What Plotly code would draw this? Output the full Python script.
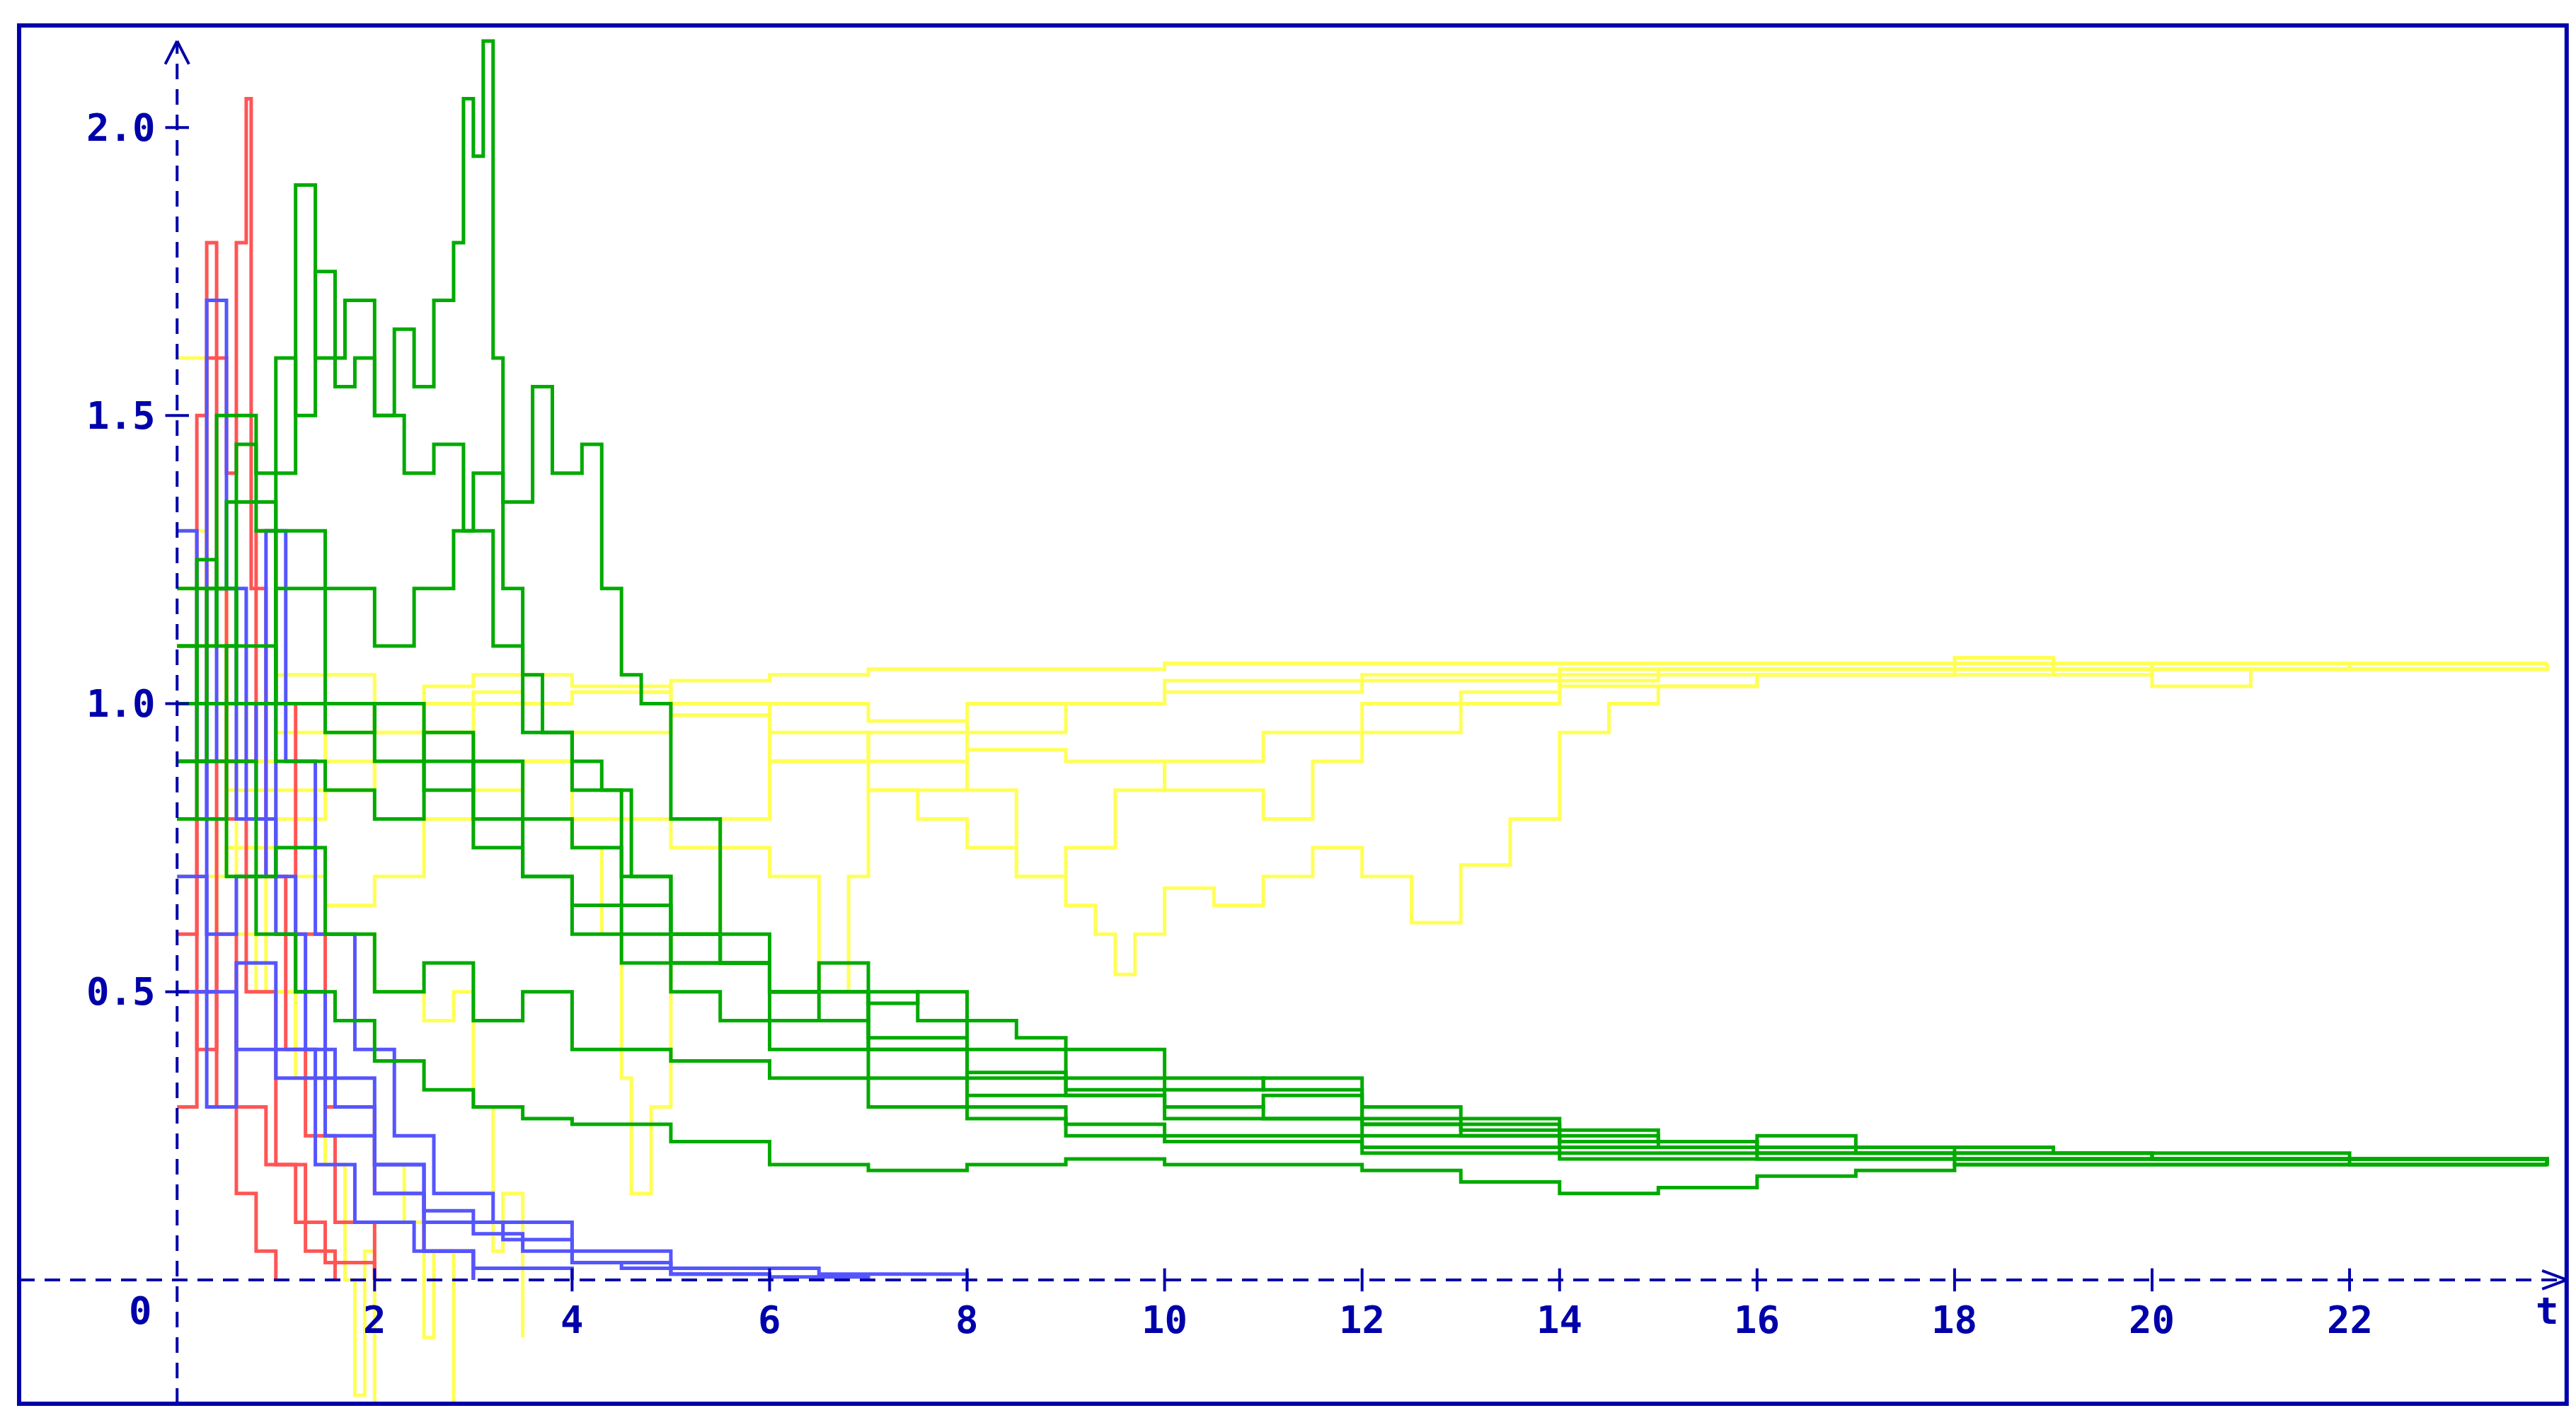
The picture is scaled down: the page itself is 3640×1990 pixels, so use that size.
import plotly.graph_objects as go

# hand-read sample paths, (t, value) pairs
green_paths = [
    [(0,1.0),(0.2,1.25),(0.4,1.1),(0.6,1.45),(0.8,1.3),(1.0,1.6),(1.2,1.5),(1.4,1.75),(1.6,1.55),(1.8,1.6),(2.0,1.5),(2.2,1.65),(2.4,1.55),(2.6,1.7),(2.8,1.8),(2.9,2.05),(3.0,1.95),(3.1,2.15),(3.2,1.6),(3.3,1.2),(3.5,1.05),(3.7,0.95),(4.0,0.9),(4.3,0.85),(4.6,0.7),(5.0,0.6),(5.5,0.55),(6,0.5),(7,0.42),(8,0.36),(9,0.33),(10,0.3),(11,0.28),(12,0.27),(13,0.25),(14,0.24),(16,0.22),(18,0.21),(20,0.21),(22,0.2),(24,0.2)],
    [(0,0.9),(0.3,1.2),(0.6,1.0),(1,1.3),(1.5,1.2),(2,1.1),(2.4,1.2),(2.8,1.3),(3.0,1.4),(3.3,1.35),(3.6,1.55),(3.8,1.4),(4.1,1.45),(4.3,1.2),(4.5,1.05),(4.7,1.0),(5.0,0.8),(5.5,0.6),(6,0.5),(6.5,0.45),(7,0.5),(7.5,0.45),(8,0.4),(9,0.35),(10,0.33),(11,0.35),(12,0.28),(13,0.26),(15,0.23),(17,0.22),(20,0.21),(24,0.2)],
    [(0,1.1),(0.4,1.5),(0.8,1.4),(1.2,1.9),(1.4,1.6),(1.7,1.7),(2.0,1.5),(2.3,1.4),(2.6,1.45),(2.9,1.3),(3.2,1.1),(3.5,0.95),(4,0.85),(4.5,0.7),(5,0.55),(6,0.45),(7,0.4),(8,0.32),(10,0.28),(12,0.25),(14,0.23),(18,0.21),(24,0.2)],
    [(0,1.1),(0.2,0.8),(0.5,0.9),(0.8,0.6),(1.2,0.5),(1.6,0.45),(2,0.38),(2.5,0.33),(3,0.3),(3.5,0.28),(4,0.27),(5,0.24),(6,0.2),(7,0.19),(8,0.2),(9,0.21),(10,0.2),(11,0.2),(12,0.19),(13,0.17),(14,0.15),(15,0.16),(16,0.18),(17,0.19),(18,0.2),(20,0.2),(24,0.2)],
    [(0,1.0),(0.5,1.1),(1,0.9),(1.5,0.85),(2,0.8),(2.5,0.9),(3,0.75),(3.5,0.7),(4,0.6),(4.5,0.55),(5,0.5),(5.5,0.45),(6,0.4),(7,0.35),(8,0.3),(9,0.27),(10,0.25),(12,0.23),(14,0.22),(16,0.21),(20,0.21),(24,0.2)],
    [(0,0.8),(0.5,0.7),(1,0.75),(1.5,0.6),(2,0.5),(2.5,0.55),(3,0.45),(3.5,0.5),(4,0.4),(5,0.38),(6,0.35),(7,0.3),(8,0.28),(9,0.25),(10,0.24),(12,0.22),(14,0.21),(18,0.2),(24,0.21)],
    [(0,1.2),(0.5,1.35),(1,1.0),(1.5,0.95),(2,1.0),(2.5,0.85),(3,0.9),(3.5,0.8),(4,0.75),(4.5,0.65),(5,0.6),(5.5,0.55),(6,0.5),(6.5,0.55),(7,0.48),(7.5,0.5),(8,0.45),(8.5,0.42),(9,0.4),(10,0.35),(11,0.33),(12,0.3),(13,0.28),(14,0.25),(15,0.24),(16,0.25),(17,0.23),(19,0.22),(22,0.21),(24,0.2)],
    [(0,0.9),(0.5,1.0),(1,1.2),(1.5,1.0),(2,0.9),(2.5,0.95),(3,0.8),(3.5,0.7),(4,0.65),(4.5,0.6),(5,0.55),(6,0.5),(7,0.4),(8,0.35),(9,0.32),(10,0.3),(11,0.32),(12,0.27),(14,0.24),(16,0.22),(20,0.21),(24,0.2)],
]

yellow_paths = [
    [(0,1.6),(0.3,1.0),(0.7,0.9),(1,0.95),(1.5,0.9),(2,0.95),(2.5,1.0),(3,1.02),(3.5,1.0),(4,1.02),(5,0.98),(6,0.9),(7,0.85),(7.5,0.8),(8,0.75),(8.5,0.7),(9,0.65),(9.3,0.6),(9.5,0.53),(9.7,0.6),(10,0.68),(10.5,0.65),(11,0.7),(11.5,0.75),(12,0.7),(12.5,0.62),(13,0.72),(13.5,0.8),(14,0.95),(14.5,1.0),(15,1.03),(16,1.05),(18,1.06),(20,1.07),(24,1.07)],
    [(0,1.0),(0.5,0.85),(1,0.8),(1.5,0.85),(2,0.9),(2.5,0.95),(3,1.0),(4,1.02),(5,1.04),(6,1.05),(7,1.06),(8,1.06),(10,1.07),(12,1.07),(16,1.07),(20,1.07),(24,1.07)],
    [(0,0.9),(0.5,0.7),(1,0.6),(1.5,0.65),(2,0.7),(2.5,0.8),(3,0.85),(3.5,0.9),(4,0.95),(5,0.98),(6,1.0),(7,0.97),(8,0.92),(9,0.9),(10,0.85),(11,0.8),(11.5,0.9),(12,0.95),(13,1.0),(14,1.03),(16,1.05),(19,1.06),(20,1.03),(21,1.06),(24,1.07)],
    [(0,1.1),(0.5,0.9),(1,0.85),(1.5,0.95),(2,1.0),(2.5,1.03),(3,1.05),(4,1.03),(5,1.0),(6,0.95),(7,0.9),(8,0.85),(8.5,0.7),(9,0.75),(9.5,0.85),(10,0.9),(11,0.95),(12,1.0),(13,1.02),(14,1.04),(15,1.05),(18,1.08),(19,1.05),(20,1.06),(22,1.07),(24,1.07)],
    [(0,1.3),(0.3,0.9),(0.6,0.7),(0.9,0.5),(1.2,0.35),(1.5,0.2),(1.7,0.0),(1.8,-0.2),(1.9,0.05),(2.0,-0.22)],
    [(0,0.8),(0.4,0.6),(0.8,0.5),(1.2,0.4),(1.6,0.3),(2,0.2),(2.3,0.1),(2.5,-0.1),(2.6,0.05),(2.8,-0.22)],
    [(0,1.0),(0.5,0.8),(1,0.7),(1.5,0.6),(2,0.5),(2.5,0.45),(2.8,0.5),(3,0.3),(3.2,0.05),(3.3,0.15),(3.5,-0.1)],
    [(0,0.7),(0.5,0.75),(1,0.8),(1.5,0.85),(2,0.9),(2.5,0.95),(3,0.9),(3.5,0.8),(4,0.75),(4.3,0.6),(4.5,0.35),(4.6,0.15),(4.8,0.3),(5,0.6),(5.5,0.8),(6,0.9),(7,0.95),(8,1.0),(10,1.04),(14,1.06),(24,1.06)],
    [(0,1.2),(0.5,1.0),(1,1.05),(2,0.95),(3,0.9),(4,0.8),(5,0.75),(6,0.7),(6.5,0.5),(6.8,0.7),(7,0.85),(8,0.95),(9,1.0),(10,1.02),(12,1.05),(15,1.06),(24,1.07)],
]

blue_paths = [
    [(0,1.3),(0.2,0.9),(0.4,1.2),(0.6,0.8),(0.8,1.0),(1,0.7),(1.2,0.5),(1.5,0.35),(2,0.2),(2.5,0.1),(3,0.08),(3.5,0.05),(4,0.03),(5,0.01),(6,0.005),(7,0.0)],
    [(0,0.8),(0.3,1.7),(0.5,1.2),(0.7,0.8),(1,0.6),(1.3,0.4),(1.6,0.3),(2,0.2),(2.5,0.12),(3,0.1),(3.3,0.07),(4,0.03),(4.5,0.02),(5,0.01),(6,0.0)],
    [(0,0.7),(0.3,0.5),(0.6,0.4),(1,0.35),(1.5,0.25),(2,0.15),(2.5,0.05),(3,0.02),(4,0.0)],
    [(0,1.0),(0.3,0.6),(0.6,0.7),(0.9,1.3),(1.1,0.9),(1.4,0.6),(1.8,0.4),(2.2,0.25),(2.6,0.15),(3.2,0.1),(4,0.05),(5,0.02),(6.5,0.01),(8,0.0)],
    [(0,0.5),(0.3,0.3),(0.6,0.55),(1,0.4),(1.4,0.2),(1.8,0.1),(2.4,0.05),(3,0.0)],
]

red_paths = [
    [(0,0.6),(0.2,1.5),(0.3,1.8),(0.4,1.2),(0.5,0.8),(0.7,0.5),(1,0.2),(1.3,0.05),(1.6,0.0)],
    [(0,0.3),(0.2,0.5),(0.4,0.3),(0.6,0.15),(0.8,0.05),(1.0,0.0)],
    [(0,1.0),(0.3,1.6),(0.5,1.4),(0.6,1.8),(0.7,2.05),(0.75,1.2),(0.9,0.7),(1.1,0.4),(1.3,0.25),(1.6,0.1),(2,0.0)],
    [(0,0.8),(0.2,0.4),(0.4,0.6),(0.6,0.3),(0.9,0.2),(1.2,0.1),(1.5,0.03),(2,0.0)],
    [(0,0.5),(0.4,0.9),(0.8,1.3),(1.0,1.0),(1.2,0.6),(1.5,0.3),(2,0.15),(2.5,0.05),(3,0.0)],
]

x_ticks = [2, 4, 6, 8, 10, 12, 14, 16, 18, 20, 22]
y_ticks = [0.5, 1.0, 1.5, 2.0]

AX = "#0000aa"
FONT = dict(family="DejaVu Sans Mono", size=54, color=AX)
AXLINE = dict(color=AX, width=4, dash="22px,14px")

fig = go.Figure()
for paths, col in [(yellow_paths, "#ffff55"), (red_paths, "#ff5555"),
                   (blue_paths, "#5555ff"), (green_paths, "#00aa00")]:
    for p in paths:
        fig.add_trace(go.Scatter(x=[a for a, b in p], y=[b for a, b in p],
                                 mode="lines", line=dict(color=col, width=5, shape="hv"),
                                 hoverinfo="skip"))

shapes = [
    dict(type="line", x0=-1.6, x1=24.2, y0=0, y1=0, line=AXLINE),
    dict(type="line", x0=0, x1=0, y0=-0.215, y1=2.15, line=AXLINE),
    dict(type="line", x0=23.95, x1=24.2, y0=0.016, y1=0, line=dict(color=AX, width=4)),
    dict(type="line", x0=23.95, x1=24.2, y0=-0.016, y1=0, line=dict(color=AX, width=4)),
    dict(type="line", x0=-0.12, x1=0, y0=2.11, y1=2.15, line=dict(color=AX, width=4)),
    dict(type="line", x0=0.12, x1=0, y0=2.11, y1=2.15, line=dict(color=AX, width=4)),
    dict(type="rect", xref="paper", yref="paper", x0=0, x1=0.998, y0=0, y1=1,
         line=dict(color=AX, width=6)),
]
annots = []
for t in x_ticks:
    shapes.append(dict(type="line", x0=t, x1=t, y0=-0.02, y1=0.02, line=dict(color=AX, width=4)))
    annots.append(dict(x=t, y=-0.07, text="<b>%d</b>" % t, showarrow=False, font=FONT))
for v in y_ticks:
    shapes.append(dict(type="line", x0=-0.12, x1=0.12, y0=v, y1=v, line=dict(color=AX, width=4)))
    annots.append(dict(x=-0.2, y=v, text="<b>%.1f</b>" % v, showarrow=False, font=FONT,
                       xanchor="right"))
annots.append(dict(x=-0.37, y=-0.054, text="<b>0</b>", showarrow=False, font=FONT))
annots.append(dict(x=24.0, y=-0.054, text="<b>t</b>", showarrow=False, font=FONT))

fig.update_layout(
    width=3640, height=1990,
    margin=dict(l=19, r=14, t=28, b=14),
    paper_bgcolor="white", plot_bgcolor="white",
    showlegend=False,
    xaxis=dict(range=[-1.6, 24.25], visible=False),
    yaxis=dict(range=[-0.215, 2.177], visible=False),
    shapes=shapes, annotations=annots,
)
fig.write_html("out.html")
